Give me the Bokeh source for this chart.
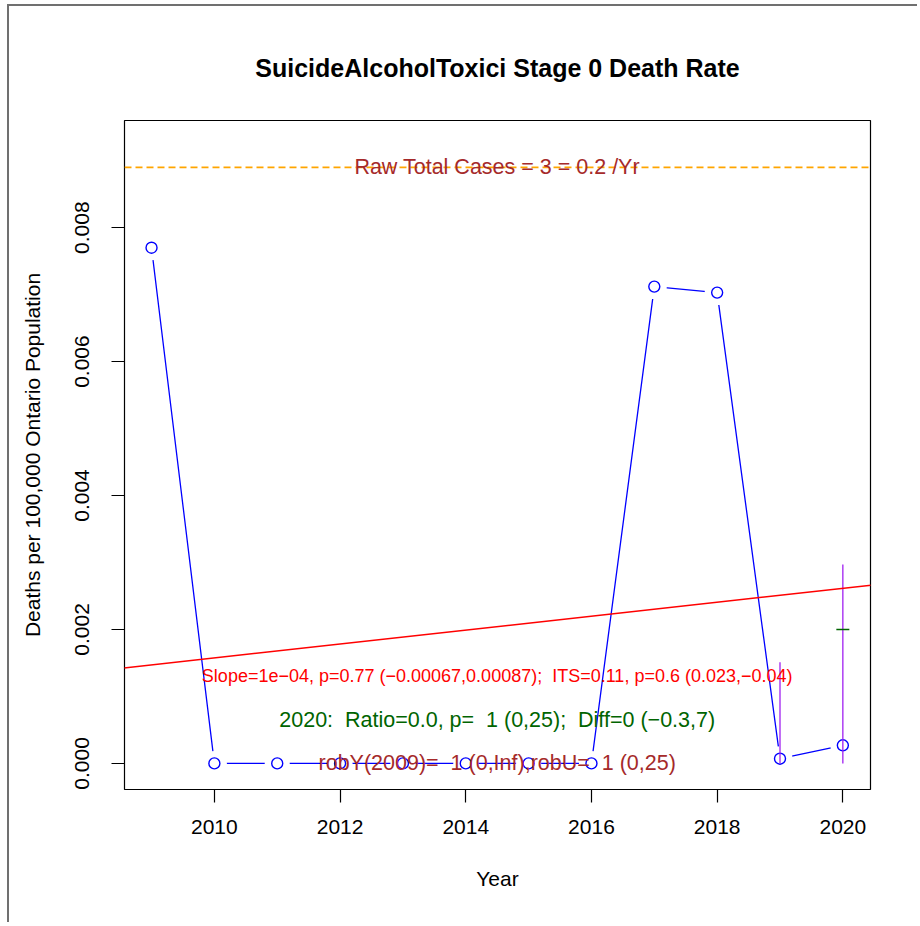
from bokeh.plotting import figure
from bokeh.models import (Range1d, FixedTicker, PrintfTickFormatter, Span, Slope,
                          Label, ColumnDataSource)
from bokeh.embed import file_html
from bokeh.resources import INLINE

# ---- data ----
years = [2009, 2010, 2011, 2012, 2013, 2014, 2015, 2016, 2017, 2018, 2019, 2020]
rates = [0.0077, 0.0, 0.0, 0.0, 0.0, 0.0, 0.0, 0.0, 0.00712, 0.00703, 0.00007, 0.00027]

ci_years = [2019, 2020]
ci_low = [0.0, 0.0]
ci_high = [0.00151, 0.00297]

expected_year = [2020]
expected_rate = [0.002]

trend_slope = 1.04e-4
trend_at_2009 = 0.00147
raw_line_level = 0.0089

x_ticks = [2010, 2012, 2014, 2016, 2018, 2020]
y_ticks = [0.0, 0.002, 0.004, 0.006, 0.008]

NB2 = "\u00a0 "
title_text = "SuicideAlcoholToxici Stage 0 Death Rate"
raw_text = "Raw Total Cases = 3 = 0.2 /Yr"
slope_text = ("Slope=1e\u221204, p=0.77 (\u22120.00067,0.00087);" + NB2 +
              "ITS=0.11, p=0.6 (0.023,\u22120.04)")
ratio_text = ("2020:" + NB2 + "Ratio=0.0, p=" + NB2 + "1 (0,25);" + NB2 +
              "Diff=0 (\u22120.3,7)")
rob_text = "robY(2009)=" + NB2 + "1 (0,Inf),robU=" + NB2 + "1 (0,25)"

FONT = "Liberation Sans"

p = figure(width=910, height=918, output_backend="svg", toolbar_location=None,
           x_range=Range1d(2008.57, 2020.44), y_range=Range1d(-0.00039, 0.0096),
           min_border_left=115, min_border_right=49, min_border_top=114,
           min_border_bottom=135, title=title_text)
p.styles = {"border-left": "2px solid #707070", "border-top": "2px solid #707070",
            "margin-left": "7px", "margin-top": "4px"}

p.title.align = "center"
p.title.text_font = FONT
p.title.text_font_size = "25px"
p.title.text_font_style = "bold"
p.title.text_color = "black"
p.title.standoff = 78

p.grid.visible = False
p.outline_line_color = "black"
p.outline_line_width = 1.2
p.background_fill_color = "white"
p.border_fill_color = "white"

for ax in (p.xaxis[0], p.yaxis[0]):
    ax.axis_line_color = None
    ax.major_tick_in = 0
    ax.major_tick_out = 13
    ax.major_tick_line_color = "black"
    ax.major_tick_line_width = 1.2
    ax.minor_tick_line_color = None
    ax.major_label_text_font = FONT
    ax.major_label_text_font_size = "21px"
    ax.major_label_text_color = "black"
    ax.axis_label_text_font = FONT
    ax.axis_label_text_font_size = "21px"
    ax.axis_label_text_font_style = "normal"
    ax.axis_label_text_color = "black"

p.xaxis.ticker = FixedTicker(ticks=x_ticks)
p.yaxis.ticker = FixedTicker(ticks=y_ticks)
p.yaxis.formatter = PrintfTickFormatter(format="%.3f")
p.yaxis.major_label_orientation = "vertical"
p.xaxis.major_label_standoff = 17
p.yaxis.major_label_standoff = 22
p.xaxis.axis_label = "Year"
p.yaxis.axis_label = "Deaths per 100,000 Ontario Population"
p.xaxis.axis_label_standoff = 30
p.yaxis.axis_label_standoff = 29

src = ColumnDataSource(dict(x=years, y=rates))
p.line("x", "y", source=src, line_color="blue", line_width=1.3)
p.scatter("x", "y", source=src, size=25, fill_color="white", line_color=None)
p.scatter("x", "y", source=src, size=11, fill_color=None, line_color="blue",
          line_width=1.4, marker="circle")

p.segment(x0=ci_years, y0=ci_low, x1=ci_years, y1=ci_high,
          line_color="#A020F0", line_width=1.3)
p.scatter(x=expected_year, y=expected_rate, marker="dash", size=13,
          line_color="#006400", line_width=1.5)

p.add_layout(Span(location=raw_line_level, dimension="width",
                  line_color="#FFA500", line_dash="7 4", line_width=1.6))
p.add_layout(Slope(gradient=trend_slope,
                   y_intercept=trend_at_2009 - trend_slope * years[0],
                   line_color="red", line_width=1.5))

xc = (years[0] + years[-1]) / 2
def add_text(txt, y, color, size):
    p.add_layout(Label(x=xc, y=y, text=txt, text_align="center",
                       text_baseline="middle", text_color=color,
                       text_font=FONT, text_font_size=size))

add_text(raw_text, raw_line_level, "#A52A2A", "21.5px")
add_text(slope_text, 0.0013, "red", "18px")
add_text(ratio_text, 0.00065, "#006400", "21.5px")
add_text(rob_text, 0.0, "#A52A2A", "21.5px")

open("out.html", "w").write(file_html(p, INLINE))
